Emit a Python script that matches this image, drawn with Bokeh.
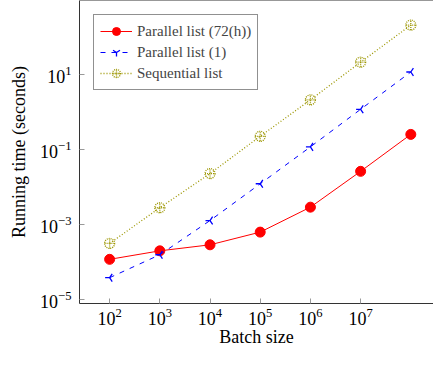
from bokeh.plotting import figure
from bokeh.models import Legend, LegendItem, FixedTicker, Span
from bokeh.embed import file_html
from bokeh.resources import INLINE
import math

batch_size = [1e2, 1e3, 1e4, 1e5, 1e6, 1e7, 1e8]
parallel_72h = [1.17e-4, 1.97e-4, 2.85e-4, 6.2e-4, 2.86e-3, 2.57e-2, 2.47e-1]
parallel_1 = [3.8e-5, 1.55e-4, 1.26e-3, 1.2e-2, 1.15e-1, 1.15, 11.3]
sequential = [3.1e-4, 2.76e-3, 2.24e-2, 2.2e-1, 2.05, 20.6, 200.0]

x_ticks = [1e2, 1e3, 1e4, 1e5, 1e6, 1e7]
y_ticks = [1e-5, 1e-3, 1e-1, 1e1]

FONT = "Liberation Serif"
FRAME = "#333333"
TICK = "#999999"

p = figure(width=433, height=349, x_axis_type="log", y_axis_type="log",
           x_range=(10**1.4, 10**8.452), y_range=(10**-5.107, 10**2.956),
           output_backend="svg", toolbar_location=None,
           min_border_left=79, min_border_right=0, min_border_top=0,
           min_border_bottom=0)
p.outline_line_color = None
p.grid.visible = False
p.background_fill_color = "white"

for ax in (p.xaxis[0], p.yaxis[0]):
    ax.axis_line_color = FRAME
    ax.axis_line_width = 1
    ax.major_tick_line_color = TICK
    ax.major_tick_in = 5
    ax.major_tick_out = 0
    ax.minor_tick_line_color = None
    ax.major_label_text_font = FONT
    ax.major_label_text_font_size = "18px"
    ax.major_label_text_color = "black"
    ax.axis_label_text_font = FONT
    ax.axis_label_text_font_size = "18px"
    ax.axis_label_text_font_style = "normal"
    ax.axis_label_text_color = "black"

p.xaxis.ticker = FixedTicker(ticks=x_ticks)
p.yaxis.ticker = FixedTicker(ticks=y_ticks)
p.xaxis.axis_label = "Batch size"
p.yaxis.axis_label = "Running time (seconds)"
p.xaxis.major_label_standoff = 4
p.xaxis.axis_label_standoff = -1
p.yaxis.major_label_standoff = 8
p.yaxis.axis_label_standoff = 8

top_line = Span(location=10**2.956, dimension="width", line_color=FRAME, line_width=1)
p.add_layout(top_line)

r1 = p.line(batch_size, parallel_72h, line_color="#ff0000", line_width=1)
m1 = p.scatter(batch_size, parallel_72h, marker="circle", size=10,
               fill_color="#ff0000", line_color="#ff0000")
r2 = p.line(batch_size, parallel_1, line_color="#0000ff", line_width=1, line_dash="5 6")
m2 = p.scatter(batch_size, parallel_1, marker="y", size=9, angle=-math.pi / 2,
               line_color="#0000ff", line_width=1.3, fill_color=None)
r3 = p.line(batch_size, sequential, line_color="#9c9600", line_width=1.3, line_dash="1 2")
m3 = p.scatter(batch_size, sequential, marker="circle_cross", size=10,
               line_color="#9c9600", line_width=1.3, line_dash="1 1", fill_color=None)

legend = Legend(items=[
    LegendItem(label="Parallel list (72(h))", renderers=[r1, m1]),
    LegendItem(label="Parallel list (1)", renderers=[r2, m2]),
    LegendItem(label="Sequential list", renderers=[r3, m3]),
], location="top_left")
legend.margin = 14
legend.padding = 6
legend.spacing = 1
legend.label_height = 20
legend.glyph_height = 20
legend.glyph_width = 32
legend.label_standoff = 5
legend.label_text_font = FONT
legend.label_text_font_size = "15px"
legend.border_line_color = "#222222"
legend.border_line_width = 1
legend.background_fill_alpha = 1
p.add_layout(legend)

open("out.html", "w").write(file_html(p, INLINE))
